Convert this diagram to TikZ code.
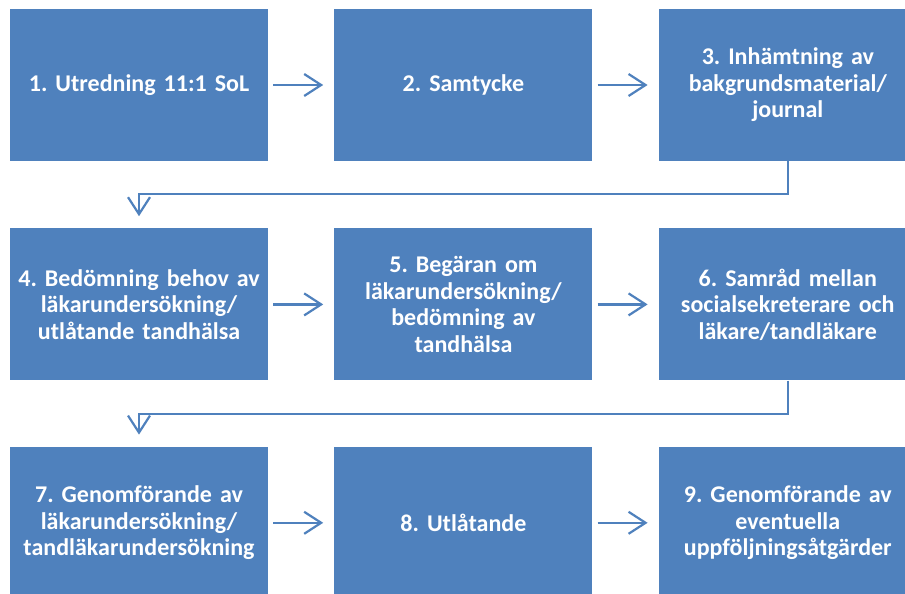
\documentclass[tikz,border=0pt]{standalone}
\usepackage{fontspec}
\setmainfont{Carlito}
\usetikzlibrary{arrows.meta,positioning,calc}
\definecolor{stepblue}{HTML}{4F81BD}
\frenchspacing

\begin{document}
\begin{tikzpicture}[node distance=66pt and 66pt,
  stepbox/.style={rectangle, fill=stepblue, text=white, font=\bfseries\fontsize{24}{26.5}\selectfont,
    minimum width=258pt, minimum height=152pt, text width=254pt, align=center, inner sep=0pt},
  flow/.style={draw=stepblue, line width=2.2pt, -{Straight Barb[length=17pt,width=22pt,line width=2.2pt]}}]
  \clip (0pt,0pt) rectangle (905pt,-594pt);
  \fill[white] (0pt,0pt) rectangle (905pt,-594pt);
  \node (s1) [stepbox] at (139pt,-85pt) {1. Utredning 11:1 SoL};
  \node (s2) [stepbox, right=of s1] {2. Samtycke};
  \node (s3) [stepbox, right=of s2] {3. Inhämtning av\\bakgrundsmaterial/\\journal};
  \node (s4) [stepbox, below=67pt of s1] {4. Bedömning behov av\\läkarundersökning/\\utlåtande tandhälsa};
  \node (s5) [stepbox, right=of s4] {5. Begäran om\\läkarundersökning/\\bedömning av\\tandhälsa};
  \node (s6) [stepbox, right=of s5] {6. Samråd mellan\\socialsekreterare och\\läkare/tandläkare};
  \node (s7) [stepbox, below=of s4] {7. Genomförande av\\läkarundersökning/\\tandläkarundersökning};
  \node (s8) [stepbox, right=of s7] {8. Utlåtande};
  \node (s9) [stepbox, right=of s8] {9. Genomförande av\\eventuella\\uppföljningsåtgärder};

  % horizontal steps
  \foreach \a/\b in {s1/s2, s2/s3, s4/s5, s5/s6, s7/s8, s8/s9}
    \draw[flow, shorten <=5pt, shorten >=11pt] (\a) -- (\b);
  % row changes
  \draw[flow, shorten >=12pt] (s3.south) -- ++(0,-33pt) -| (s4.north);
  \draw[flow, shorten >=12pt] (s6.south) -- ++(0,-33pt) -| (s7.north);
\end{tikzpicture}
\end{document}
